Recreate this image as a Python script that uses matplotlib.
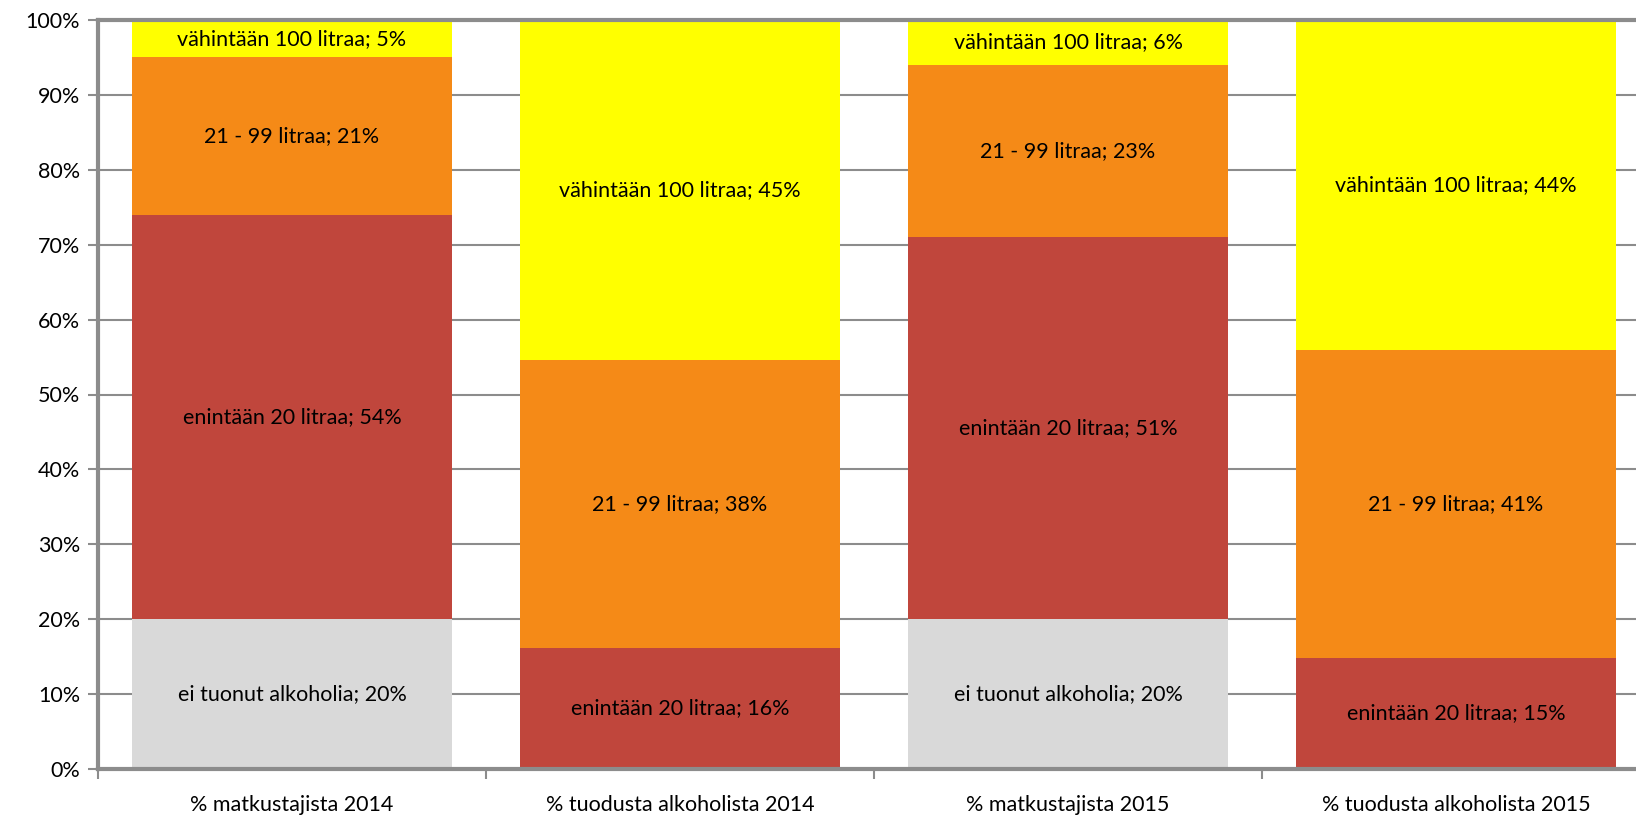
import numpy as np
import matplotlib as mpl
mpl.use('agg')
import matplotlib.pyplot as plt

# Data
categories = ['% matkustajista 2014', '% tuodusta alkoholista 2014',
              '% matkustajista 2015', '% tuodusta alkoholista 2015']
series_names = ['ei tuonut alkoholia', 'enintään 20 litraa', '21 - 99 litraa', 'vähintään 100 litraa']
ei_tuonut = [20, 0, 20, 0]
enintaan_20 = [54, 16.2, 51, 14.8]
litraa_21_99 = [21, 38.4, 23, 41.2]
vahintaan_100 = [5, 45.4, 6, 44.0]
label_pct = [[20, None, 20, None], [54, 16, 51, 15], [21, 38, 23, 41], [5, 45, 6, 44]]
colors = ['#D9D9D9', '#C0463C', '#F58A17', '#FFFF00']

plt.rcParams['font.family'] = ['Lato', 'DejaVu Sans']

fig = plt.figure(figsize=(16.36, 8.18), dpi=100)
# axes extends past the right edge, like the cropped original
ax = fig.add_axes([98 / 1636, 49 / 818, 1552 / 1636, 749 / 818])

x = np.arange(len(categories))
bottom = np.zeros(len(categories))
for name, vals, col, pcts in zip(series_names,
                                 [ei_tuonut, enintaan_20, litraa_21_99, vahintaan_100],
                                 colors, label_pct):
    vals = np.array(vals, dtype=float)
    ax.bar(x, vals, bottom=bottom, width=0.825, color=col, zorder=2)
    for i, v in enumerate(vals):
        if v > 0 and pcts[i] is not None:
            ax.text(x[i], bottom[i] + v / 2, '{}; {}%'.format(name, pcts[i]),
                    ha='center', va='center', fontsize=15.5, color='black', zorder=3)
    bottom += vals

ax.set_ylim(0, 100)
ax.set_xlim(-0.5, 3.5)
ax.set_yticks(np.arange(0, 101, 10))
ax.set_yticklabels(['{}%'.format(v) for v in range(0, 101, 10)], fontsize=15.5)
ax.yaxis.grid(True, color='#8C8C8C', linewidth=1.5, zorder=0)
ax.set_axisbelow(True)

# category labels between boundary ticks
ax.set_xticks(np.arange(-0.5, 4, 1.0))
ax.set_xticklabels([])
ax.set_xticks(x, minor=True)
ax.set_xticklabels(categories, minor=True, fontsize=15.5)
ax.tick_params(axis='x', which='minor', length=0, pad=19)
ax.tick_params(axis='x', which='major', length=7, color='#8C8C8C', width=1.5)
ax.tick_params(axis='y', length=7, color='#8C8C8C', width=1.5, pad=6)

for s in ax.spines.values():
    s.set_color('#8C8C8C')
    s.set_linewidth(3)

fig.savefig('out.png', dpi=100)
